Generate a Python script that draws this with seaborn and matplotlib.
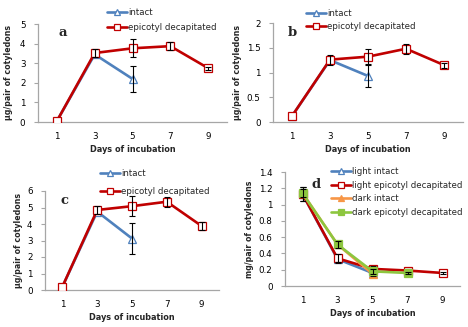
import matplotlib
matplotlib.use("Agg")
import matplotlib.pyplot as plt
import seaborn as sns
import pandas as pd
import numpy as np

sns.set_theme(style="white")
plt.rcParams['font.family'] = ['DejaVu Sans']

days = [1, 3, 5, 7, 9]
xtick_labels = ["1", "3", "5", "7", "9"]

# panel a
a_intact_days = [1, 3, 5]
a_intact = [0.05, 3.45, 2.2]
a_intact_err = [0.0, 0.0, 0.68]
a_decap = [0.05, 3.52, 3.76, 3.87, 2.75]
a_decap_err = [0.0, 0.22, 0.45, 0.2, 0.08]

# panel b
b_intact_days = [1, 3, 5]
b_intact = [0.12, 1.25, 0.93]
b_intact_err = [0.0, 0.0, 0.23]
b_decap = [0.12, 1.26, 1.32, 1.48, 1.15]
b_decap_err = [0.0, 0.1, 0.15, 0.1, 0.05]

# panel c
c_intact_days = [1, 3, 5]
c_intact = [0.2, 4.75, 3.12]
c_intact_err = [0.0, 0.0, 0.92]
c_decap = [0.2, 4.85, 5.08, 5.35, 3.88]
c_decap_err = [0.0, 0.25, 0.62, 0.3, 0.25]

# panel d
d_short_days = [1, 3, 5]
d_mid_days = [1, 3, 5, 7]
d_light_intact = [1.13, 0.33, 0.16]
d_light_intact_err = [0.08, 0.05, 0.03]
d_light_decap = [1.13, 0.34, 0.21, 0.19, 0.16]
d_light_decap_err = [0.08, 0.05, 0.03, 0.02, 0.01]
d_dark_intact = [1.14, 0.51, 0.15]
d_dark_intact_err = [0.05, 0.04, 0.03]
d_dark_decap = [1.14, 0.51, 0.18, 0.16]
d_dark_decap_err = [0.05, 0.04, 0.03, 0.01]

BLUE = "#4F81BD"
RED = "#C00000"
ORANGE = "#F79646"
GREEN = "#8DC63F"
GRAY = "#A6A6A6"

W, H = 468, 327
fig = plt.figure(figsize=(W / 100, H / 100), dpi=100)


def make_ax(l, r, t, b):
    return fig.add_axes([l / W, 1 - b / H, (r - l) / W, (b - t) / H])


def style_ax(ax, ylim, yticks, ytl, xlim, ylabel, letter, lpos, ylabelpad=3):
    ax.set_xlim(*xlim)
    ax.set_ylim(*ylim)
    ax.set_xticks(days, xtick_labels)
    ax.set_xticks([0, 2, 4, 6, 8, 10], minor=True)
    ax.set_yticks(yticks, ytl)
    ax.tick_params(axis='x', which='major', length=0, labelsize=6.3, pad=7, colors='black')
    ax.tick_params(axis='x', which='minor', direction='in', length=3, width=0.8, color=GRAY)
    ax.tick_params(axis='y', which='major', direction='out', length=3, width=0.8, color=GRAY,
                   labelsize=6.3, pad=6, labelcolor='black', left=True)
    for s in ['top', 'right']:
        ax.spines[s].set_visible(False)
    for s in ['left', 'bottom']:
        ax.spines[s].set_color(GRAY)
        ax.spines[s].set_linewidth(0.9)
    ax.set_xlabel("Days of incubation", fontsize=5.9, fontweight='bold', labelpad=3)
    ax.set_ylabel(ylabel, fontsize=5.7, fontweight='bold', labelpad=ylabelpad)
    ax.text(lpos[0], lpos[1], letter, transform=ax.transAxes, fontsize=9.5,
            fontweight='bold', family='DejaVu Serif', ha='center', va='center')
    ax.patch.set_alpha(0)


def series(ax, xs, ys, errs, color, marker, mfc, label, z, ms=5.5):
    df = pd.DataFrame({"day": xs, "value": ys})
    sns.lineplot(data=df, x="day", y="value", ax=ax, color=color, linewidth=1.9,
                 marker=marker, markersize=ms, markerfacecolor=mfc, markeredgecolor=color,
                 markeredgewidth=0.9, label=label, zorder=z, legend=False)
    e = np.array(errs)
    m = e > 0
    ax.errorbar(np.array(xs)[m], np.array(ys)[m], yerr=e[m], fmt='none', ecolor='black',
                elinewidth=0.8, capsize=2.5, capthick=0.8, zorder=z + 0.5)


def legend(ax, x, y, spacing):
    ax.legend(loc='upper left', bbox_to_anchor=(x / W, 1 - y / H), bbox_transform=fig.transFigure,
              frameon=False, fontsize=6.2, handlelength=2.3, handletextpad=0.15,
              labelspacing=spacing, borderpad=0, borderaxespad=0, markerscale=0.85)


# a
ax = make_ax(38, 227, 24, 122)
series(ax, a_intact_days, a_intact, a_intact_err, BLUE, '^', 'white', 'intact', 2)
series(ax, days, a_decap, a_decap_err, RED, 's', 'white', 'epicotyl decapitated', 3)
style_ax(ax, (0, 5), [0, 1, 2, 3, 4, 5], ["0", "1", "2", "3", "4", "5"], (0, 10),
         "\u03bcg/pair of cotyledons", "a", (0.13, 0.91), ylabelpad=5)
legend(ax, 107, 8, 0.75)

# b
ax = make_ax(273, 463, 23, 122)
series(ax, b_intact_days, b_intact, b_intact_err, BLUE, '^', 'white', 'intact', 2)
series(ax, days, b_decap, b_decap_err, RED, 's', 'white', 'epicotyl decapitated', 3)
style_ax(ax, (0, 2), [0, 0.5, 1, 1.5, 2], ["0", "0.5", "1", "1.5", "2"], (0, 10),
         "\u03bcg/pair of cotyledons", "b", (0.10, 0.9))
legend(ax, 306, 9, 0.45)

# c
ax = make_ax(45, 219, 191, 290)
series(ax, c_intact_days, c_intact, c_intact_err, BLUE, '^', 'white', 'intact', 2)
series(ax, days, c_decap, c_decap_err, RED, 's', 'white', 'epicotyl decapitated', 3)
style_ax(ax, (0, 6), [0, 1, 2, 3, 4, 5, 6], ["0", "1", "2", "3", "4", "5", "6"], (0.45, 10),
         "\u03bcg/pair of cotyledons", "c", (0.11, 0.9))
legend(ax, 100, 169, 1.0)

# d
ax = make_ax(285, 460, 172, 286)
series(ax, d_short_days, d_light_intact, d_light_intact_err, BLUE, '^', 'white', 'light intact', 2)
series(ax, days, d_light_decap, d_light_decap_err, RED, 's', 'white', 'light epicotyl decapitated', 3)
series(ax, d_short_days, d_dark_intact, d_dark_intact_err, ORANGE, '^', ORANGE, 'dark intact', 4)
series(ax, d_mid_days, d_dark_decap, d_dark_decap_err, GREEN, 's', GREEN, 'dark epicotyl decapitated', 5)
style_ax(ax, (0, 1.4), [0, 0.2, 0.4, 0.6, 0.8, 1, 1.2, 1.4],
         ["0", "0.2", "0.4", "0.6", "0.8", "1", "1.2", "1.4"], (0, 10),
         "mg/pair of cotyledons", "d", (0.18, 0.886))
legend(ax, 331, 167, 0.55)

fig.savefig("out.png", dpi=100)
